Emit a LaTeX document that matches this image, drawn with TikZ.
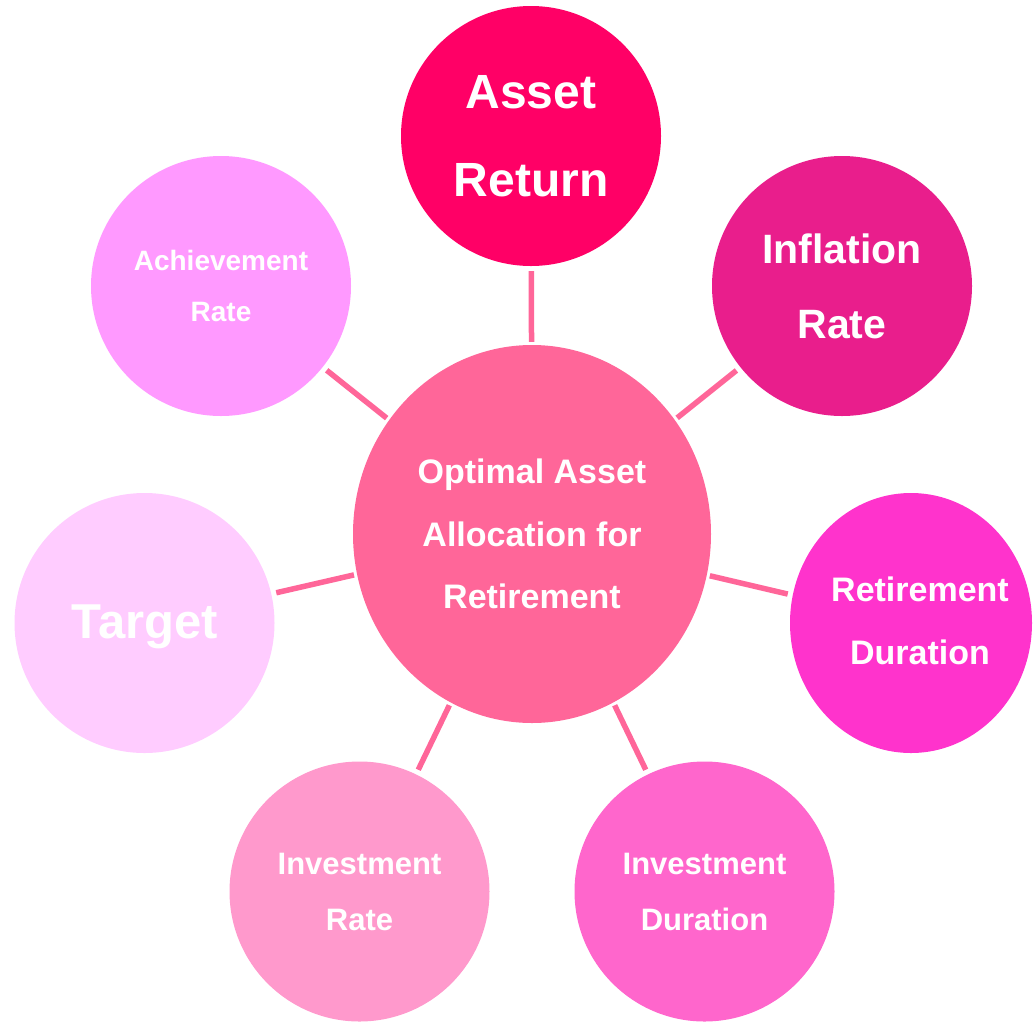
\documentclass[tikz,border=0pt]{standalone}
\usepackage{fontspec}
\setmainfont{Liberation Sans}
\usetikzlibrary{shapes.geometric}
\definecolor{cCenter}{HTML}{FF6699}
\definecolor{cAsset}{HTML}{FF0066}
\definecolor{cInfl}{HTML}{E91E8C}
\definecolor{cRet}{HTML}{FF33CC}
\definecolor{cInvD}{HTML}{FF66CC}
\definecolor{cInvR}{HTML}{FF99CC}
\definecolor{cTarget}{HTML}{FFCCFF}
\definecolor{cAch}{HTML}{FF99FF}
\definecolor{cLine}{HTML}{FF6699}
\tikzset{
  bubble/.style={circle, minimum size=260pt, inner sep=0pt, text=white, align=center, font=\bfseries},
  lbl/.style={text=white, align=center, inner sep=0pt, font=\bfseries},
  conn/.style={draw=cLine, line width=5.5pt, shorten <=3pt, shorten >=5pt}
}
\begin{document}
\begin{tikzpicture}[x=1pt,y=-1pt]
\useasboundingbox (0,0) rectangle (1036,1021);
\node[ellipse, fill=cCenter, minimum width=358pt, minimum height=378pt, inner sep=0pt, text=white, align=center,
  font=\bfseries\fontsize{34}{62.5}\selectfont] (center) at (532,534) {Optimal Asset\\Allocation for\\Retirement};
\node[bubble, fill=cAsset, minimum width=257pt, font=\bfseries\fontsize{48}{88}\selectfont] (asset) at (531,136) {Asset\\Return};
\node[bubble, fill=cInfl, font=\bfseries\fontsize{41}{75}\selectfont] (infl) at (842,286) {Inflation\\Rate};
\node[ellipse, fill=cRet, minimum width=242pt, minimum height=260pt, inner sep=0pt] (ret) at (911,623) {};
\node[lbl, font=\bfseries\fontsize{34}{63}\selectfont] (retT) at (920,621) {Retirement\\Duration};
\node[bubble, fill=cInvD, font=\bfseries\fontsize{31}{56}\selectfont] (invd) at (704.5,891.5) {Investment\\Duration};
\node[bubble, fill=cInvR, font=\bfseries\fontsize{31}{56}\selectfont] (invr) at (359.5,891.5) {Investment\\Rate};
\node[circle, fill=cTarget, minimum size=260pt, inner sep=0pt] (target) at (144.5,623) {};
\node[text=white, inner sep=0pt, text depth=0pt, font=\bfseries\fontsize{49}{56}\selectfont] (targetT) at (145,622) {Target};
\node[bubble, fill=cAch, font=\bfseries\fontsize{28}{51}\selectfont] (ach) at (221,286) {Achievement\\Rate};
\draw[conn] (center) -- (asset);
\draw[conn] (center) -- (infl);
\draw[conn] (center) -- (ret);
\draw[conn] (center) -- (invd);
\draw[conn] (center) -- (invr);
\draw[conn] (center) -- (target);
\draw[conn] (center) -- (ach);
\end{tikzpicture}
\end{document}
